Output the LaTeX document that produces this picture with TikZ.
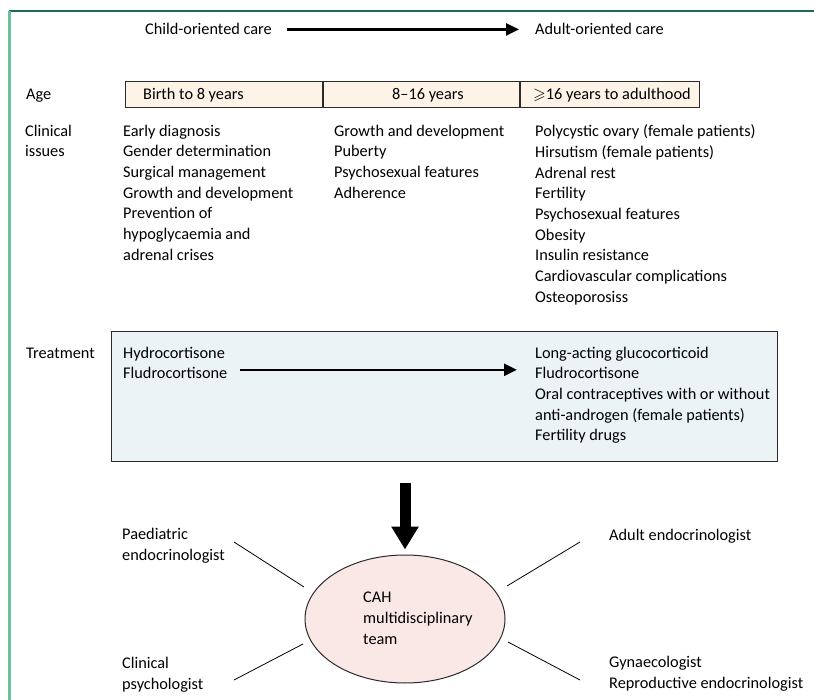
\documentclass[tikz,border=0pt]{standalone}
\usepackage{amssymb}
\usepackage{fontspec}
\setmainfont{Carlito}
\usepackage{tikz}
\usetikzlibrary{positioning,arrows.meta,shapes.geometric,calc}
\definecolor{frameGreen}{HTML}{1D6E4C}
\definecolor{sideGreen}{HTML}{6CC09A}
\definecolor{ageCream}{HTML}{FDF3E6}
\definecolor{treatBlue}{HTML}{EBF3F7}
\definecolor{teamPink}{HTML}{F9E8E6}
\definecolor{edgeGray}{HTML}{2B2B2B}

\begin{document}
\begin{tikzpicture}[
    x=1pt, y=-1pt,
    node distance=0pt and 0pt,
    txt/.style={
        anchor=base west,
        align=left,
        inner sep=0pt,
        font=\fontsize{16.3}{20.7}\selectfont
    },
    txtblock/.style={
        txt,
        anchor=north west,
        execute at begin node=\strut
    },
    agecell/.style={
        draw=edgeGray,
        fill=ageCream,
        line width=1pt,
        minimum height=26pt,
        inner sep=0pt
    },
    treatbox/.style={
        draw=edgeGray,
        fill=treatBlue,
        line width=1.2pt,
        minimum width=666pt,
        minimum height=130pt,
        inner sep=0pt
    },
    teamoval/.style={
        ellipse,
        draw=edgeGray,
        fill=teamPink,
        line width=1pt,
        minimum width=200pt,
        minimum height=128pt
    },
    arrow/.style={
        -{Triangle[length=13pt,width=12pt]},
        line width=2.5pt
    },
    bigarrow/.style={
        -{Triangle[length=23pt,width=26pt]},
        line width=11pt
    },
    spoke/.style={line width=0.8pt}
]
\useasboundingbox (0,0) rectangle (814,700);
\draw[frameGreen, line width=1.5pt] (9,11) -- (814,11);
\draw[sideGreen, line width=2.5pt] (9.5,11) -- (9.5,700);

% care direction
\node[txt] (child) at (145,35) {Child-oriented care};
\node[txt] (adult) at (535,35) {Adult-oriented care};
\draw[arrow, shorten <=15pt, shorten >=16pt] (child.east) -- (adult.west);

% age bar
\node[txt] (age) at (26,100) {Age};
\node[agecell, minimum width=197pt, anchor=north west] (age1) at (125,81) {};
\node[agecell, minimum width=196pt, right=of age1] (age2) {};
\node[agecell, minimum width=179pt, right=of age2] (age3) {};
\node[txt] (agetxt1) at (143,100) {Birth to 8 years};
\node[txt] (agetxt2) at (392,100) {8–16 years};
\node[txt] (agetxt3) at (533,100) {$\geqslant$16 years to adulthood};

% clinical issues (block tops = first baseline - strut height)
\node[txtblock] (clinical) at (25,124.5) {Clinical\\issues};
\node[txtblock] (issues1) at (123,124.5) {Early diagnosis\\Gender determination\\Surgical management\\Growth and development\\Prevention of\\hypoglycaemia and\\adrenal crises};
\node[txtblock] (issues2) at (334,124.5) {Growth and development\\Puberty\\Psychosexual features\\Adherence};
\node[txtblock] (issues3) at (535,124.5) {Polycystic ovary (female patients)\\Hirsutism (female patients)\\Adrenal rest\\Fertility\\Psychosexual features\\Obesity\\Insulin resistance\\Cardiovascular complications\\Osteoporosiss};

% treatment
\node[treatbox, anchor=north west] (treat) at (111,331) {};
\node[txt] (treatment) at (26,359) {Treatment};
\node[txtblock] (hydro) at (123,346.5) {Hydrocortisone\\Fludrocortisone};
\node[txtblock] (longact) at (535,346.5) {Long-acting glucocorticoid\\Fludrocortisone\\Oral contraceptives with or without\\anti-androgen (female patients)\\Fertility drugs};
\draw[arrow] ([xshift=12pt,yshift=-4pt]hydro.east) -- ([xshift=-18pt,yshift=-4pt]hydro.east -| longact.west);

% team
\node[teamoval] (team) at (405,619) {};
\node[txtblock] (cah) at (363,592) {CAH\\multidisciplinary\\team};
\draw[bigarrow] ([yshift=-21pt]treat.south -| team.north) -- ([yshift=5pt]team.north);

\node[txtblock] (paed) at (122,528) {Paediatric\\endocrinologist};
\node[txt] (adendo) at (609,540) {Adult endocrinologist};
\node[txtblock] (psych) at (122,657) {Clinical\\psychologist};
\node[txtblock] (gyn) at (609,656) {Gynaecologist\\Reproductive endocrinologist};

\draw[spoke] ($(team)+(-101,-32)$) -- ($(team)+(-171,-77)$);
\draw[spoke] ($(team)+(102,-33)$) -- ($(team)+(175,-77)$);
\draw[spoke] ($(team)+(-102,25)$) -- ($(team)+(-171,61)$);
\draw[spoke] ($(team)+(103,23)$) -- ($(team)+(175,61)$);
\end{tikzpicture}
\end{document}
